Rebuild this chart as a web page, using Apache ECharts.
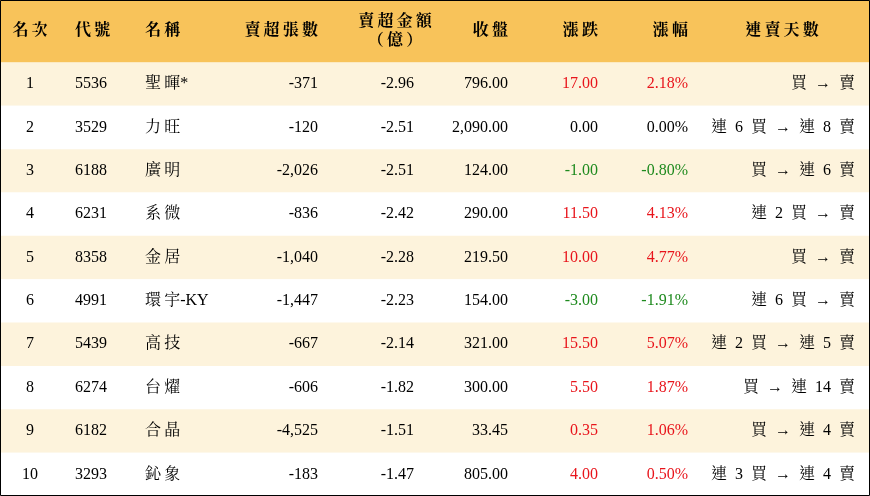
<!DOCTYPE html>
<html><head><meta charset="utf-8">
<script src="https://cdn.jsdelivr.net/npm/echarts@6/dist/echarts.min.js"></script>
<style>html,body{margin:0;padding:0;background:#fff}#c{width:870px;height:496px}</style>
</head><body><div id="c"></div>
<script>
const headers = ['名次','代號','名稱','賣超張數','賣超金額\n（億）','收盤','漲跌','漲幅','連賣天數'];
const ranks = ['1','2','3','4','5','6','7','8','9','10'];
const codes = ['5536','3529','6188','6231','8358','4991','5439','6274','6182','3293'];
const names = ['聖暉*','力旺','廣明','系微','金居','環宇-KY','高技','台燿','合晶','鈊象'];
const netShares = [-371,-120,-2026,-836,-1040,-1447,-667,-606,-4525,-183];
const netAmount = [-2.96,-2.51,-2.51,-2.42,-2.28,-2.23,-2.14,-1.82,-1.51,-1.47];
const closes = [796.00,2090.00,124.00,290.00,219.50,154.00,321.00,300.00,33.45,805.00];
const changes = [17.00,0.00,-1.00,11.50,10.00,-3.00,15.50,5.50,0.35,4.00];
const pcts = [2.18,0.00,-0.80,4.13,4.77,-1.91,5.07,1.87,1.06,0.50];
const streaks = ['買 → 賣','連 6 買 → 連 8 賣','買 → 連 6 賣','連 2 買 → 賣','買 → 賣','連 6 買 → 賣','連 2 買 → 連 5 賣','買 → 連 14 賣','買 → 連 4 賣','連 3 買 → 連 4 賣'];

const FONT = '"Liberation Serif","Noto Serif CJK TC","Noto Sans CJK TC",serif';
const fmt = (v,d)=>v.toLocaleString('en-US',{minimumFractionDigits:d,maximumFractionDigits:d});
const isCJK = c => /[\u3000-\u9fff\uff00-\uffef]/.test(c);
const spaceCJK = s => { let o=''; for (let k=0;k<s.length;k++){ o+=s[k]; if (k<s.length-1 && isCJK(s[k]) && isCJK(s[k+1])) o+='\u2009'; } return o; };
const cols = [[30,'center'],[75,'left'],[145,'left'],[318,'right'],[414,'right'],[508,'right'],[598,'right'],[688,'right'],[855,'right']];
const hcols = [[30,'center'],[75,'left'],[145,'left'],[318,'right'],[395,'center'],[508,'right'],[598,'right'],[688,'right'],[782,'center']];
const colorOf = v => v>0 ? '#e8141b' : (v<0 ? '#1e8a1e' : '#000');

function renderItem(params, api){
  const i = api.value(0);
  const top = i < 0 ? -1.44 : i;
  const p0 = api.coord([0, top]);
  const p1 = api.coord([870, i < 0 ? 0 : i+1]);
  const cy = (p0[1]+p1[1])/2;
  const children = [];
  let fill = i < 0 ? '#f8c35a' : (i % 2 === 0 ? '#fdf3dc' : '#ffffff');
  children.push({type:'rect', shape:{x:p0[0], y:p0[1], width:p1[0]-p0[0], height:p1[1]-p0[1]}, style:{fill}});
  if (i < 0) {
    headers.forEach((h,k)=>{
      const t = h.split('\n').map(s=>s.length>2&&!/（/.test(s)?s.split('').join('\u2009'):s.split('').join('\u2009')).join('\n');
      children.push({type:'text', style:{text:t, x:hcols[k][0], y:cy, align:hcols[k][1], verticalAlign:'middle', font:'bold 16px '+FONT, fill:'#000', lineHeight:19}});
    });
  } else {
    const vals = [ranks[i], codes[i], spaceCJK(names[i]), fmt(netShares[i],0), fmt(netAmount[i],2), fmt(closes[i],2), fmt(changes[i],2), fmt(pcts[i],2)+'%', streaks[i].split(' ').join('\u2002')];
    const colors = ['#000','#000','#000','#000','#000','#000', colorOf(changes[i]), colorOf(pcts[i]), '#000'];
    vals.forEach((t,k)=>{
      children.push({type:'text', style:{text:t, x:cols[k][0], y:cy, align:cols[k][1], verticalAlign:'middle', font:'16px '+FONT, fill:colors[k]}});
    });
  }
  return {type:'group', children};
}

const chart = echarts.init(document.getElementById('c'));
chart.setOption({
  animation:false,
  grid:{left:0,right:0,top:0,bottom:0},
  xAxis:{type:'value',min:0,max:870,show:false},
  yAxis:{type:'value',min:-1.44,max:10,inverse:true,show:false},
  series:[{type:'custom', renderItem, data:[-1,0,1,2,3,4,5,6,7,8,9].map(v=>[v]), encode:{x:-1,y:0}, clip:false}],
  graphic:[{type:'rect', shape:{x:0.5,y:0.5,width:869,height:495}, style:{fill:null, stroke:'#000', lineWidth:1}, z:100}]
});
</script></body></html>
